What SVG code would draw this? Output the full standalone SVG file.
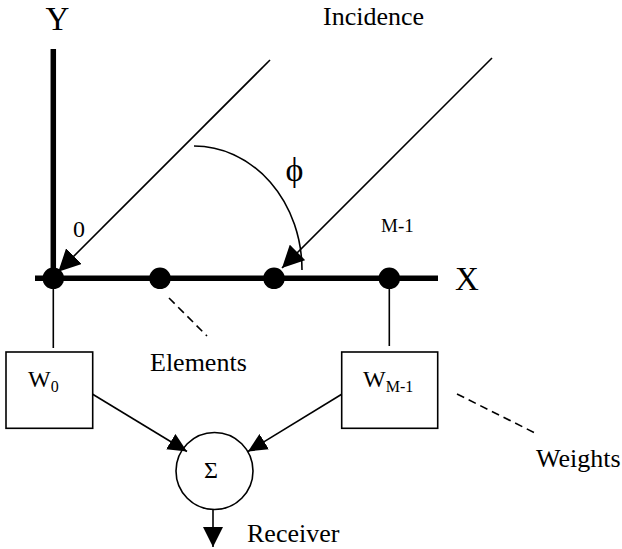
<svg xmlns="http://www.w3.org/2000/svg" width="622" height="549" viewBox="0 0 622 549">
<style>
.lbl { font-size: 26px; }
.axis { stroke: #000; stroke-width: 5.5; fill: none; }
.thin { stroke: #000; stroke-width: 1.6; fill: none; }
.dash { stroke: #000; stroke-width: 1.6; fill: none; stroke-dasharray: 8 5; }
.box { stroke: #000; stroke-width: 1.6; fill: #fff; }
</style>
<defs>
<marker id="ahBig" markerUnits="userSpaceOnUse" markerWidth="22" markerHeight="22" refX="20" refY="10" orient="auto" viewBox="0 0 20 20">
<path d="M0,0 L20,10 L0,20 z" fill="#000"/>
</marker>
<marker id="ahMid" markerUnits="userSpaceOnUse" markerWidth="19" markerHeight="18" refX="19" refY="9" orient="auto" viewBox="0 0 19 18">
<path d="M0,0 L19,9 L0,18 z" fill="#000"/>
</marker>
<marker id="ahOut" markerUnits="userSpaceOnUse" markerWidth="20" markerHeight="20" refX="20" refY="10" orient="auto" viewBox="0 0 20 20">
<path d="M0,0 L20,10 L0,20 z" fill="#000"/>
</marker>
</defs>

<g font-family="'Liberation Serif', 'Times New Roman', Times, 'DejaVu Serif', serif" fill="#000">

<g id="axes">
<line class="axis" x1="53.3" y1="49" x2="53.3" y2="278"/>
<line class="axis" x1="35" y1="278.3" x2="438" y2="278.3"/>
<text x="57.5" y="30" font-size="33" text-anchor="middle">Y</text>
<text x="467" y="290" font-size="33" text-anchor="middle">X</text>
</g>

<g id="element-0">
<circle cx="53.3" cy="278.3" r="10.8" fill="#000"/>
<text x="79" y="237" font-size="24" text-anchor="middle">0</text>
</g>
<g id="element-1">
<circle cx="160" cy="278.3" r="10.8" fill="#000"/>
</g>
<g id="element-2">
<circle cx="274" cy="278.3" r="10.8" fill="#000"/>
</g>
<g id="element-M-1">
<circle cx="389.3" cy="278.3" r="10.8" fill="#000"/>
<text x="381" y="232" font-size="19">M-1</text>
</g>

<g id="incidence">
<text class="lbl" x="323" y="25">Incidence</text>
<text x="294.5" y="181" font-size="34" text-anchor="middle">ϕ</text>
</g>

<g id="labels">
<text class="lbl" x="150" y="371">Elements</text>
<text class="lbl" x="536" y="467">Weights</text>
<text class="lbl" x="247" y="542">Receiver</text>
</g>

<g id="W0">
<rect class="box" x="6" y="352" width="86.7" height="76.3"/>
<text x="28" y="387" font-size="24">W<tspan font-size="16" dy="5">0</tspan></text>
</g>

<g id="WM-1">
<rect class="box" x="341.7" y="352" width="96" height="76.3"/>
<text x="363" y="387" font-size="24">W<tspan font-size="16" dy="5">M-1</tspan></text>
</g>

<g id="sum">
<circle class="box" cx="214.5" cy="471" r="38.5"/>
<text x="211" y="478" font-size="24" text-anchor="middle">Σ</text>
</g>

</g>

<g id="connectors">
<line class="thin" x1="270" y1="60" x2="58.3" y2="271.7" marker-end="url(#ahBig)"/>
<line class="thin" x1="492" y1="58" x2="282" y2="268" marker-end="url(#ahBig)"/>
<path class="thin" d="M194,146 A108,124 0 0 1 302,270"/>
<line class="dash" x1="169" y1="298" x2="207" y2="336"/>
<line class="dash" x1="457" y1="394" x2="535" y2="433"/>
<line class="thin" x1="53.3" y1="278" x2="53.3" y2="348"/>
<line class="thin" x1="389.3" y1="278" x2="389.3" y2="346"/>
<line class="thin" x1="92.7" y1="394.3" x2="187" y2="451.5" marker-end="url(#ahMid)"/>
<line class="thin" x1="341.7" y1="394.3" x2="248" y2="451.5" marker-end="url(#ahMid)"/>
<line class="thin" x1="213" y1="509.5" x2="213" y2="547" marker-end="url(#ahOut)"/>
</g>
</svg>
